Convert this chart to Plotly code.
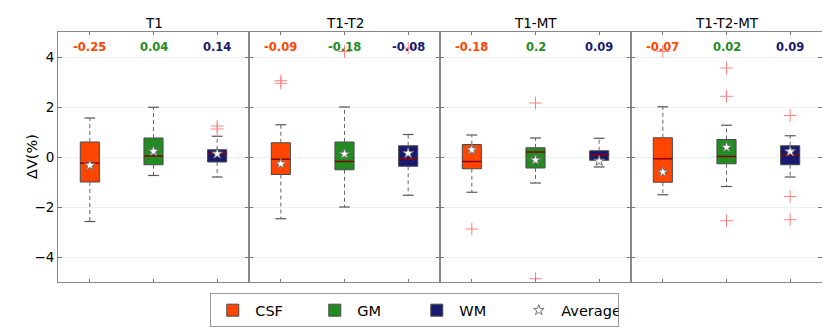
import plotly.graph_objects as go
from plotly.subplots import make_subplots

panels = ["T1", "T1-T2", "T1-MT", "T1-T2-MT"]
tissues = ["CSF", "GM", "WM"]
colors = ["#FF4500", "#228B22", "#191970"]

# per tissue, values across the four panels
csf_q1 = [-1.00, -0.70, -0.47, -1.01]
csf_med = [-0.25, -0.09, -0.18, -0.07]
csf_q3 = [0.60, 0.57, 0.50, 0.77]
csf_lo = [-2.58, -2.47, -1.41, -1.51]
csf_hi = [1.56, 1.29, 0.88, 2.01]
csf_mean = [-0.33, -0.27, 0.29, -0.60]
csf_out = [[], [2.95, 3.05], [-2.88], [4.22]]
csf_lab = ["-0.25", "-0.09", "-0.18", "-0.07"]

gm_q1 = [-0.31, -0.51, -0.44, -0.27]
gm_med = [0.04, -0.18, 0.20, 0.02]
gm_q3 = [0.76, 0.60, 0.37, 0.70]
gm_lo = [-0.74, -2.00, -1.04, -1.18]
gm_hi = [1.99, 2.00, 0.76, 1.27]
gm_mean = [0.23, 0.12, -0.12, 0.39]
gm_out = [[], [4.22], [2.16, -4.87], [3.56, 2.43, -2.55]]
gm_lab = ["0.04", "-0.18", "0.2", "0.02"]

wm_q1 = [-0.20, -0.37, -0.13, -0.31]
wm_med = [0.14, -0.08, 0.09, 0.09]
wm_q3 = [0.29, 0.45, 0.25, 0.45]
wm_lo = [-0.80, -1.53, -0.40, -0.80]
wm_hi = [0.83, 0.90, 0.75, 0.85]
wm_mean = [0.13, 0.15, -0.16, 0.22]
wm_out = [[1.12, 1.24], [4.36], [], [1.66, -1.58, -2.51]]
wm_lab = ["0.14", "-0.08", "0.09", "0.09"]

data = [
    dict(q1=csf_q1, med=csf_med, q3=csf_q3, lo=csf_lo, hi=csf_hi, mean=csf_mean, out=csf_out, lab=csf_lab),
    dict(q1=gm_q1, med=gm_med, q3=gm_q3, lo=gm_lo, hi=gm_hi, mean=gm_mean, out=gm_out, lab=gm_lab),
    dict(q1=wm_q1, med=wm_med, q3=wm_q3, lo=wm_lo, hi=wm_hi, mean=wm_mean, out=wm_out, lab=wm_lab),
]

FONT = "DejaVu Sans"
BW = 0.3
CAP = 0.085

fig = make_subplots(rows=1, cols=4, shared_yaxes=True, horizontal_spacing=0)

for i, pname in enumerate(panels):
    col = i + 1
    # whiskers
    wx, wy, cx, cy = [], [], [], []
    for j, d in enumerate(data):
        p = j + 1
        wx += [p, p, None, p, p, None]
        wy += [d["q3"][i], d["hi"][i], None, d["q1"][i], d["lo"][i], None]
        cx += [p - CAP, p + CAP, None, p - CAP, p + CAP, None]
        cy += [d["hi"][i], d["hi"][i], None, d["lo"][i], d["lo"][i], None]
    fig.add_trace(go.Scatter(x=wx, y=wy, mode="lines", showlegend=False, hoverinfo="skip",
                             line=dict(color="#666666", width=1, dash="4px,3px")), row=1, col=col)
    fig.add_trace(go.Scatter(x=cx, y=cy, mode="lines", showlegend=False, hoverinfo="skip",
                             line=dict(color="#555555", width=1.2)), row=1, col=col)
    # boxes
    for j, d in enumerate(data):
        fig.add_trace(go.Bar(x=[j + 1], y=[d["q3"][i] - d["q1"][i]], base=[d["q1"][i]], width=BW,
                             name=tissues[j], legendgroup=tissues[j], showlegend=(i == 0),
                             marker=dict(color=colors[j], line=dict(color="#4a4a4a", width=1))),
                      row=1, col=col)
    # medians
    mx, my = [], []
    for j, d in enumerate(data):
        mx += [j + 1 - BW / 2, j + 1 + BW / 2, None]
        my += [d["med"][i], d["med"][i], None]
    fig.add_trace(go.Scatter(x=mx, y=my, mode="lines", showlegend=False, hoverinfo="skip",
                             line=dict(color="#8B0000", width=1.5)), row=1, col=col)
    # outliers
    ox, oy = [], []
    for j, d in enumerate(data):
        for v in d["out"][i]:
            ox.append(j + 1)
            oy.append(v)
    fig.add_trace(go.Scatter(x=ox, y=oy, mode="markers", showlegend=False,
                             marker=dict(symbol="cross-thin", size=9,
                                         line=dict(color="#FF8080", width=1))), row=1, col=col)
    # means
    fig.add_trace(go.Scatter(x=[1, 2, 3], y=[d["mean"][i] for d in data], mode="markers",
                             name="Average", legendgroup="Average", showlegend=(i == 0),
                             marker=dict(symbol="star", size=8, color="white",
                                         line=dict(color="#777777", width=1))), row=1, col=col)
    # median labels
    xref = "x" if col == 1 else f"x{col}"
    for j, d in enumerate(data):
        fig.add_annotation(x=j + 1, y=4.42, xref=xref, yref="y", text=f"<b>{d['lab'][i]}</b>",
                           showarrow=False, font=dict(family=FONT, size=11.5, color=colors[j]))
    # subplot title
    fig.add_annotation(x=2, y=1, xref=xref, yref="paper", yanchor="bottom", yshift=-1,
                       text=pname, showarrow=False, font=dict(family=FONT, size=13.5, color="black"))

    fig.update_xaxes(range=[0.5, 3.5], tickvals=[1, 2, 3], showticklabels=False,
                     ticks="inside", ticklen=3, tickcolor="#777", showgrid=False, zeroline=False,
                     showline=True, linecolor="#888888", linewidth=1, mirror="ticks",
                     automargin=False, row=1, col=col)
    fig.update_yaxes(range=[-5, 5], tickvals=[-4, -2, 0, 2, 4],
                     ticks="inside", ticklen=4, tickcolor="#777", showgrid=True, gridcolor="#eeeeee",
                     zeroline=False, showline=True, linecolor="#888888", linewidth=1, mirror="ticks",
                     automargin=False, row=1, col=col)

fig.update_yaxes(tickfont=dict(family=FONT, size=13.5, color="black"), row=1, col=1)

# y-axis label
fig.add_annotation(x=0, y=0.5, xref="paper", yref="paper", xanchor="center", yanchor="middle",
                   xshift=-26, textangle=-90, text="ΔV(%)", showarrow=False,
                   font=dict(family=FONT, size=14.5, color="black"))

# the page body adds an 8px offset; the figure is sized so the plot lands where the reference has it
fig.update_layout(
    width=822, height=324,
    margin=dict(l=50, r=8, t=24, b=50, autoexpand=False),
    plot_bgcolor="white", paper_bgcolor="white",
    barmode="overlay",
    font=dict(family=FONT, size=13, color="black"),
    legend=dict(orientation="h", x=0.467, xanchor="center", y=-0.045, yanchor="top",
                bordercolor="#999999", borderwidth=1, font=dict(family=FONT, size=14.5),
                entrywidth=52, entrywidthmode="pixels", itemwidth=35),
)

fig.write_html("out.html")
